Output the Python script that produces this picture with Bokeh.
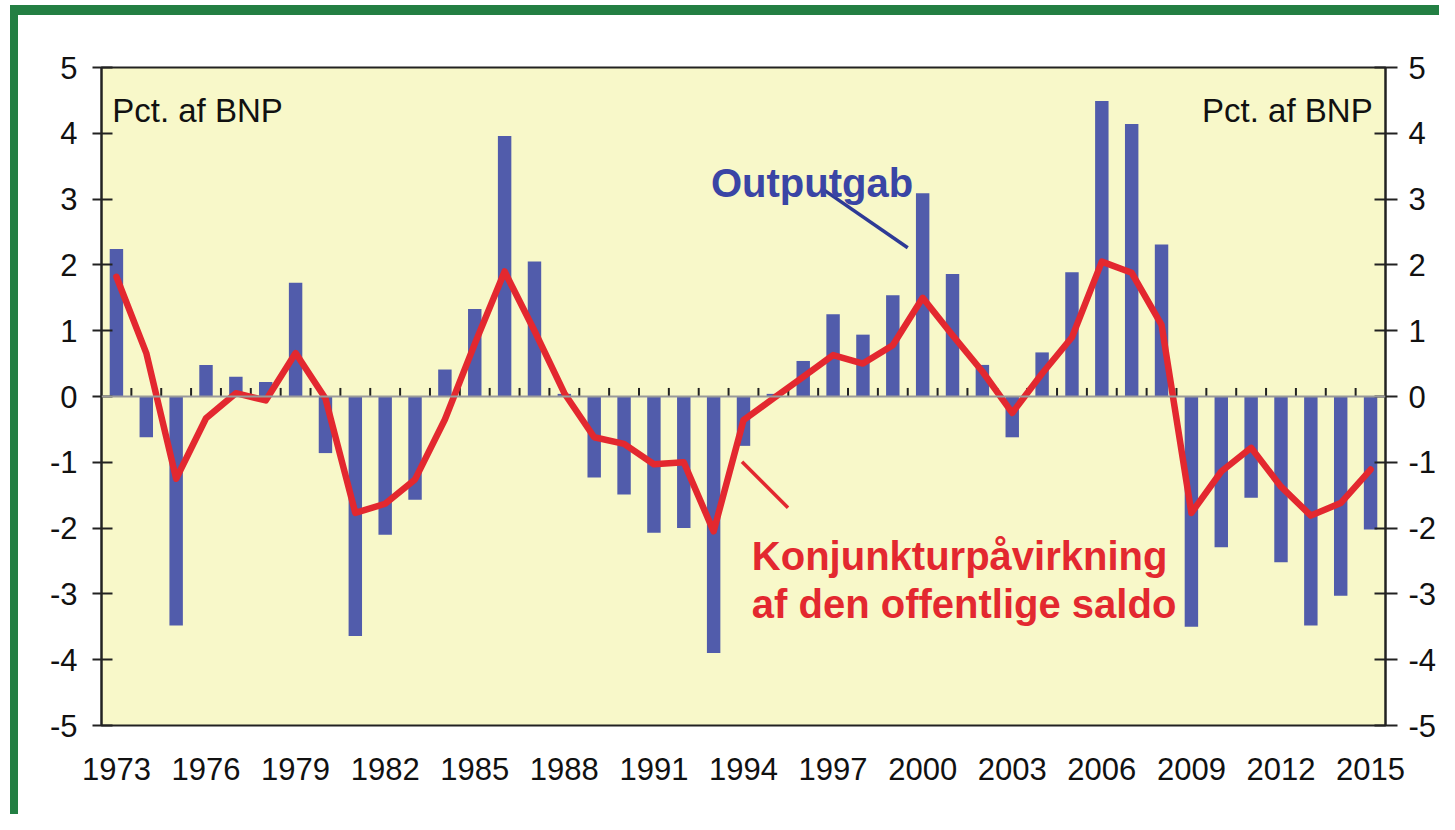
from bokeh.plotting import figure
from bokeh.models import Range1d, LinearAxis, FixedTicker, Span, Label
from bokeh.embed import file_html
from bokeh.resources import INLINE

# ---- data ----
years = list(range(1973, 2016))
outputgab = [2.24, -0.62, -3.48, 0.48, 0.30, 0.22, 1.73, -0.86, -3.64, -2.10,
             -1.57, 0.41, 1.33, 3.96, 2.05, 0.04, -1.23, -1.49, -2.07, -2.00,
             -3.90, -0.75, 0.04, 0.54, 1.25, 0.94, 1.54, 3.09, 1.86, 0.48,
             -0.62, 0.67, 1.89, 4.49, 4.14, 2.31, -3.50, -2.29, -1.54, -2.52,
             -3.48, -3.03, -2.02]
saldo = [1.82, 0.66, -1.25, -0.33, 0.05, -0.06, 0.66, -0.03, -1.77, -1.63,
         -1.26, -0.35, 0.80, 1.90, 1.00, 0.05, -0.62, -0.72, -1.03, -1.00,
         -2.05, -0.36, -0.03, 0.30, 0.63, 0.50, 0.78, 1.50, 0.93, 0.38,
         -0.25, 0.35, 0.90, 2.05, 1.88, 1.09, -1.77, -1.14, -0.78, -1.37,
         -1.81, -1.62, -1.11]
x_ticks = list(range(1973, 2016, 3))
y_ticks = list(range(-5, 6))
unit_label = "Pct. af BNP"
bar_label = "Outputgab"
line_label = ["Konjunkturpåvirkning", "af den offentlige saldo"]

FONT = "Liberation Sans"
BAR = "#515CAB"
RED = "#E3282F"
BLUE_TXT = "#3A45A5"
GREEN = "#237F43"

p = figure(width=1439, height=814, output_backend="svg", toolbar_location=None,
           x_range=Range1d(years[0] - 0.5, years[-1] + 0.5),
           y_range=Range1d(-5, 5),
           min_border_left=101, min_border_right=51, min_border_top=67,
           min_border_bottom=89, x_axis_location="below", y_axis_location="left")
p.border_fill_color = None
p.styles = {
    "background-color": "white",
    "background-image": f"linear-gradient({GREEN},{GREEN}), linear-gradient({GREEN},{GREEN})",
    "background-size": "8px 100%, 100% 10px",
    "background-position": "10px 5px, 10px 5px",
    "background-repeat": "no-repeat",
}

p.background_fill_color = "#F8F8C9"
p.outline_line_color = "#222222"
p.outline_line_width = 2
p.grid.visible = False

# bottom axis
xa = p.xaxis[0]
xa.ticker = FixedTicker(ticks=x_ticks)
xa.major_tick_line_color = None
xa.minor_tick_line_color = None
xa.axis_line_color = None
xa.major_label_standoff = 26
xa.major_label_text_font = FONT
xa.major_label_text_font_size = "31px"
xa.major_label_text_color = "#111111"

# left axis
ya = p.yaxis[0]
ya.ticker = FixedTicker(ticks=y_ticks)
ya.major_label_overrides = {v: str(v) for v in y_ticks}
ya.minor_tick_line_color = None
ya.axis_line_color = "#222222"
ya.axis_line_width = 2
ya.major_tick_line_color = "#222222"
ya.major_tick_line_width = 2
ya.major_tick_in = 11
ya.major_tick_out = 9
ya.major_label_standoff = 15
ya.major_label_text_font = FONT
ya.major_label_text_font_size = "31px"
ya.major_label_text_color = "#111111"

# right axis
ra = LinearAxis(ticker=FixedTicker(ticks=y_ticks))
ra.major_label_overrides = {v: str(v) for v in y_ticks}
ra.minor_tick_line_color = None
ra.axis_line_color = "#222222"
ra.axis_line_width = 2
ra.major_tick_line_color = "#222222"
ra.major_tick_line_width = 2
ra.major_tick_in = 11
ra.major_tick_out = 12
ra.major_label_standoff = 11
ra.major_label_text_font = FONT
ra.major_label_text_font_size = "31px"
ra.major_label_text_color = "#111111"
p.add_layout(ra, "right")

# bars
p.vbar(x=years, top=outputgab, bottom=0, width=0.45, fill_color=BAR, line_color=None)

# zero line and small ticks between years
p.add_layout(Span(location=0, dimension="width", line_color="#9A9A9A", line_width=2))
mid = [y + 0.5 for y in years[:-1]]
p.segment(x0=mid, y0=[0] * len(mid), x1=mid, y1=[0.13] * len(mid),
          line_color="#222222", line_width=2)

# red line
p.line(years, saldo, line_color=RED, line_width=6.5, line_join="round", line_cap="round")

# labels
p.add_layout(Label(x=1972.86, y=4.34, text=unit_label, text_font=FONT,
                   text_font_size="33px", text_color="#111111",
                   text_baseline="alphabetic", text_align="left"))
p.add_layout(Label(x=2015.07, y=4.34, text=unit_label, text_font=FONT,
                   text_font_size="33px", text_color="#111111",
                   text_baseline="alphabetic", text_align="right"))

p.add_layout(Label(x=1992.91, y=3.25, text=bar_label, text_font=FONT,
                   text_font_size="40px", text_font_style="bold", text_color=BLUE_TXT,
                   text_baseline="alphabetic", text_align="left"))
p.segment(x0=[1996.69], y0=[3.14], x1=[1999.5], y1=[2.26], line_color="#2E3A96", line_width=3.5)

p.add_layout(Label(x=1994.28, y=-2.43, text=line_label[0], text_font=FONT,
                   text_font_size="40px", text_font_style="bold", text_color=RED,
                   text_baseline="alphabetic", text_align="left"))
p.add_layout(Label(x=1994.28, y=-3.16, text=line_label[1], text_font=FONT,
                   text_font_size="40px", text_font_style="bold", text_color=RED,
                   text_baseline="alphabetic", text_align="left"))
p.segment(x0=[1993.95], y0=[-0.99], x1=[1995.49], y1=[-1.69], line_color=RED, line_width=3.5)

open("out.html", "w").write(file_html(p, INLINE))
